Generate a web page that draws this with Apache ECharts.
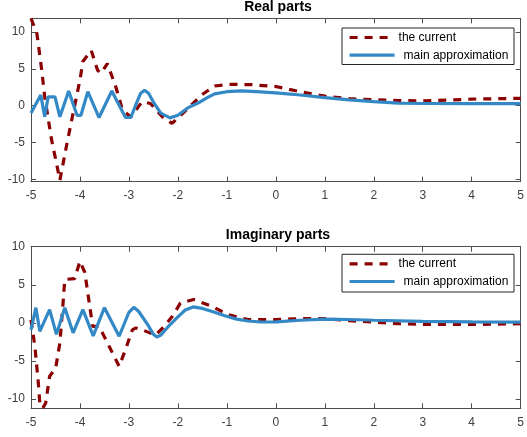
<!DOCTYPE html>
<html>
<head>
<meta charset="utf-8">
<script src="https://cdn.jsdelivr.net/npm/echarts@6/dist/echarts.min.js"></script>
<style>
html,body{margin:0;padding:0;background:#fff;}
#chart{width:527px;height:437px;}
</style>
</head>
<body>
<div id="chart"></div>
<script>
// ---- Data ----
var realCurrentX = [-5, -4.88, -4.78, -4.72, -4.58, -4.48, -4.41, -4.28, -4.14, -4.0, -3.94, -3.77, -3.64, -3.57, -3.44, -3.27, -3.13, -2.96, -2.73, -2.63, -2.56, -2.32, -2.12, -1.79, -1.52, -1.25, -0.91, -0.5, 0, 0.5, 1, 1.5, 2, 2.5, 3, 3.5, 4, 5];
var realCurrentY = [11.85, 9.8, 4.8, 1.2, -4.6, -7.8, -10.1, -5.6, -1.0, 3.5, 6.0, 7.5, 4.8, 4.4, 5.7, 2.6, -0.6, -1.5, 0.55, 0.4, 0.3, -1.5, -2.4, -0.35, 1.45, 2.67, 2.9, 2.85, 2.6, 1.9, 1.3, 0.95, 0.8, 0.7, 0.65, 0.75, 0.9, 1.0];

var realApproxX = [-5, -4.8, -4.72, -4.65, -4.51, -4.41, -4.23, -4.06, -3.98, -3.84, -3.61, -3.35, -3.07, -2.96, -2.85, -2.76, -2.68, -2.6, -2.5, -2.35, -2.16, -2.0, -1.8, -1.58, -1.4, -1.25, -1.0, -0.7, -0.4, 0, 0.5, 1, 1.5, 2, 2.5, 3, 4, 5];
var realApproxY = [-1.0, 1.45, -1.5, 1.2, 1.2, -1.5, 2.0, -1.3, -1.3, 1.9, -1.6, 2.0, -1.6, -1.6, 0.3, 1.7, 2.1, 1.7, 0.5, -1.0, -1.65, -1.3, -0.3, 0.4, 1.1, 1.6, 1.9, 2.0, 1.9, 1.75, 1.45, 1.1, 0.8, 0.55, 0.35, 0.3, 0.28, 0.28];

var imagCurrentX = [-5, -4.92, -4.85, -4.82, -4.76, -4.7, -4.62, -4.55, -4.5, -4.41, -4.35, -4.31, -4.11, -4.0, -3.9, -3.81, -3.74, -3.61, -3.44, -3.2, -3.07, -2.93, -2.86, -2.73, -2.46, -2.3, -2.12, -1.95, -1.68, -1.31, -0.98, -0.57, 0, 0.5, 1, 1.5, 2, 2.5, 3, 4, 5];
var imagCurrentY = [0.4, -3.1, -7.9, -10.5, -11.2, -10.5, -7.0, -6.4, -6.1, -2.6, 2.2, 5.7, 5.8, 8.1, 6.6, 2.6, -0.45, -0.45, -2.6, -5.7, -3.5, -0.9, -0.66, -0.9, -1.6, -0.6, 0.8, 2.6, 3.07, 2.2, 1.1, 0.43, 0.43, 0.57, 0.57, 0.3, 0.1, -0.1, -0.18, -0.2, -0.1];

var imagApproxX = [-5, -4.9, -4.82, -4.62, -4.48, -4.31, -4.14, -3.94, -3.73, -3.5, -3.2, -3.0, -2.9, -2.8, -2.6, -2.5, -2.43, -2.35, -2.2, -2.0, -1.85, -1.69, -1.5, -1.25, -1.04, -0.8, -0.57, -0.3, 0, 0.5, 1, 1.5, 2, 3, 4, 5];
var imagApproxY = [-0.9, 2.0, -1.1, 1.75, -1.5, 2.0, -1.3, 1.75, -1.7, 2.0, -1.75, 1.4, 2.05, 1.5, -0.4, -1.5, -1.85, -1.6, -0.5, 0.8, 1.7, 2.1, 1.9, 1.4, 0.95, 0.5, 0.25, 0.12, 0.13, 0.35, 0.5, 0.45, 0.35, 0.2, 0.13, 0.1];

var xTicks = [-5, -4, -3, -2, -1, 0, 1, 2, 3, 4, 5];
var yTicks = [-10, -5, 0, 5, 10];
var titles = ['Real parts', 'Imaginary parts'];
var seriesNames = ['the current', 'main approximation'];

function pairs(xs, ys) { return xs.map(function (x, i) { return [x, ys[i]]; }); }

var FONT = 'Liberation Sans, Arial, Helvetica, sans-serif';
var AXC = '#4d4d4d';
var LBL = '#404040';
var RED = '#8b0000';
var BLUE = '#3389c6';

var grids = [
  { left: 31, top: 18.3, width: 494.7, height: 163.4 },
  { left: 31, top: 246.7, width: 494.7, height: 161.6 }
];
var yRanges = [[-10.3, 11.85], [-11.2, 10]];

var xAxes = [], yAxes = [];
grids.forEach(function (g, gi) {
  [ 'bottom', 'top' ].forEach(function (pos) {
    xAxes.push({
      type: 'value', gridIndex: gi, position: pos,
      min: xTicks[0], max: xTicks[xTicks.length - 1], interval: 1,
      axisLine: { show: true, onZero: false, lineStyle: { color: AXC, width: 1 } },
      axisTick: { show: true, inside: true, length: 5, lineStyle: { color: AXC } },
      axisLabel: { show: pos === 'bottom', color: LBL, fontFamily: FONT, fontSize: 12, margin: 8,
        formatter: function (v) { return xTicks.indexOf(v) >= 0 ? String(v) : ''; } },
      splitLine: { show: false }
    });
  });
  [ 'left', 'right' ].forEach(function (pos) {
    yAxes.push({
      type: 'value', gridIndex: gi, position: pos,
      min: yRanges[gi][0], max: yRanges[gi][1],
      axisLine: { show: true, onZero: false, lineStyle: { color: AXC, width: 1 } },
      axisTick: { show: true, inside: true, length: 5, lineStyle: { color: AXC } },
      axisLabel: { show: pos === 'left', color: LBL, fontFamily: FONT, fontSize: 12, margin: 6,
        formatter: function (v) { return yTicks.indexOf(v) >= 0 ? String(v) : ''; } },
      splitLine: { show: false }
    });
  });
});

function lineSeries(name, data, gi, color, dashed) {
  return {
    type: 'line', name: name, data: data,
    xAxisIndex: gi * 2, yAxisIndex: gi * 2,
    symbol: 'none', showSymbol: false, smooth: false, clip: true,
    lineStyle: { color: color, width: 3.2, type: dashed ? [8, 7] : 'solid' },
    itemStyle: { color: color },
    z: dashed ? 2 : 3,
    animation: false
  };
}

var series = [
  lineSeries(seriesNames[0], pairs(realCurrentX, realCurrentY), 0, RED, true),
  lineSeries(seriesNames[1], pairs(realApproxX, realApproxY), 0, BLUE, false),
  lineSeries(seriesNames[0], pairs(imagCurrentX, imagCurrentY), 1, RED, true),
  lineSeries(seriesNames[1], pairs(imagApproxX, imagApproxY), 1, BLUE, false)
];

var legendBoxes = [ { x: 342, y: 28, w: 172, h: 36.5 }, { x: 342, y: 254.3, w: 172, h: 37.7 } ];
var legends = [];
var graphics = [];
legendBoxes.forEach(function (b, bi) {
  graphics.push({ type: 'rect', z: 10, shape: { x: b.x, y: b.y, width: b.w, height: b.h },
    style: { fill: '#fff', stroke: '#262626', lineWidth: 1 } });
  var itemYs = [b.y + 10.5, b.y + 28.2];
  seriesNames.forEach(function (nm, ni) {
    legends.push({
      data: [nm], left: 348, top: itemYs[ni] - 7, orient: 'vertical', z: 20,
      itemWidth: 45, itemHeight: 14, itemGap: 0, padding: 0, selectedMode: false,
      itemStyle: { opacity: 0, borderWidth: 0, color: 'rgba(0,0,0,0)' },
      lineStyle: { width: 3.2 },
      textStyle: { color: '#000', fontFamily: FONT, fontSize: 12, padding: [0, 0, 0, ni === 0 ? -1 : 4] }
    });
  });
});

var chart = echarts.init(document.getElementById('chart'), null, { renderer: 'canvas' });
chart.setOption({
  backgroundColor: '#fff',
  animation: false,
  title: titles.map(function (t, i) {
    return { text: t, left: 278, textAlign: 'center', top: i === 0 ? 0 : 228.5, padding: 0,
      textStyle: { fontFamily: FONT, fontSize: 14, fontWeight: 'bold', color: '#000' } };
  }),
  grid: grids,
  xAxis: xAxes,
  yAxis: yAxes,
  legend: legends,
  graphic: graphics,
  series: series
});
</script>
</body>
</html>
